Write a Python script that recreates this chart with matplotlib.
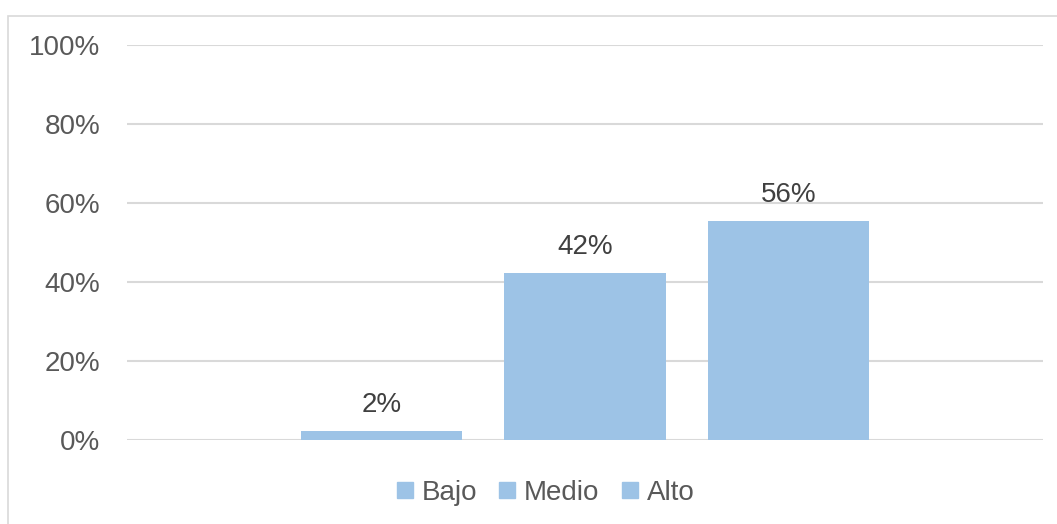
import matplotlib.pyplot as plt
from matplotlib.patches import Rectangle
from matplotlib.lines import Line2D

# data
categories = ["Bajo", "Medio", "Alto"]
values = [2.3, 42.3, 55.5]
labels = ["2%", "42%", "56%"]
yticks = [0, 20, 40, 60, 80, 100]

bar_color = "#9DC3E6"
text_color = "#595959"
label_color = "#404040"
grid_color = "#D9D9D9"

plt.rcParams["font.family"] = ["Liberation Sans", "DejaVu Sans"]

fig = plt.figure(figsize=(10.57, 5.24), dpi=100)
ax = fig.add_axes([127 / 1057, 84 / 524, 916 / 1057, 395 / 524])

# chart border
fig.patches.append(Rectangle((8 / 1057, -0.1), 1.2, 1 - 16 / 524 + 0.1,
                             transform=fig.transFigure, fill=False,
                             edgecolor=grid_color, linewidth=1.2))

x = list(range(len(categories)))
ax.bar(x, values, width=0.793, color=bar_color, zorder=2)

for xi, v, lab in zip(x, values, labels):
    ax.annotate(lab, (xi, v), xytext=(0, 9.5), textcoords="offset points",
                ha="center", va="bottom", fontsize=20, color=label_color)

ax.set_ylim(0, 100)
ax.set_xlim(-1.254, 3.254)
ax.set_yticks(yticks)
ax.set_yticklabels([f"{t}%" for t in yticks], fontsize=20, color=text_color)
ax.tick_params(axis="y", length=0, pad=19)
ax.set_xticks([])
ax.yaxis.grid(True, color=grid_color, linewidth=1.5, zorder=0)
ax.set_axisbelow(True)
for s in ax.spines.values():
    s.set_visible(False)

handles = [Line2D([], [], marker="s", linestyle="none", markersize=11,
                  color=bar_color) for _ in categories]
fig.legend(handles, categories, loc="center", bbox_to_anchor=(0.516, 0.059),
           ncol=3, frameon=False, fontsize=20, labelcolor=text_color,
           handlelength=0.6, handletextpad=0.3, columnspacing=0.8)

fig.savefig("out.png", dpi=100)
